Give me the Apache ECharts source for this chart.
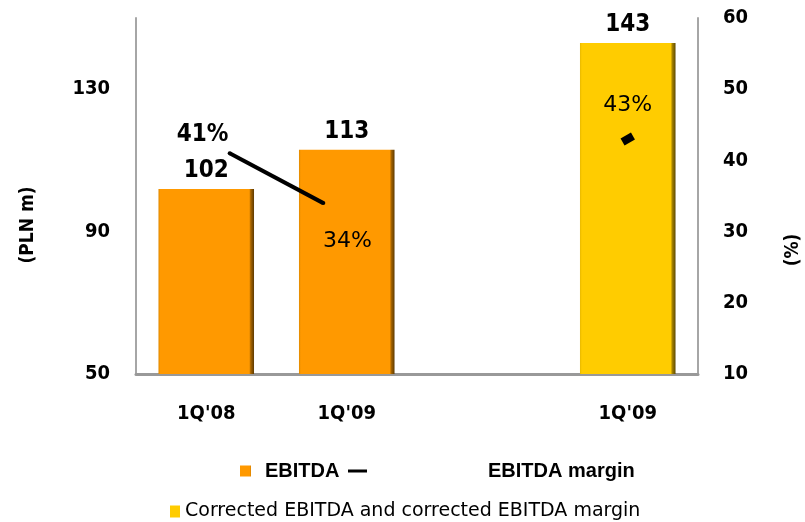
<!DOCTYPE html>
<html>
<head>
<meta charset="utf-8">
<script src="https://cdn.jsdelivr.net/npm/echarts@6/dist/echarts.min.js"></script>
<style>
  html, body { margin: 0; padding: 0; background: #ffffff; overflow: hidden; }
  #chart { width: 805px; height: 522px; }
</style>
</head>
<body>
<div id="chart"></div>
<script>
// Quarterly EBITDA (PLN m) and EBITDA margin (%)
const quarters = ["1Q'08", "1Q'09", "", "1Q'09"];
const ebitda = [102, 113, '-', '-'];
const correctedEbitda = ['-', '-', '-', 143];
const correctedMargin = ['-', '-', '-', 43];

// the margin line runs on its own finer category grid
const marginSlots = ['', "1Q'08", "1Q'09", '', '', '', ''];
const ebitdaMargin = ['-', 41, 34, '-', '-', '-', '-'];

const plnTicks = [50, 90, 130];
const pctTicks = [10, 20, 30, 40, 50, 60];

const BOLD = '"DejaVu Sans Condensed", "DejaVu Sans", sans-serif';
const PLAIN = '"DejaVu Sans", sans-serif';
const LEGEND_BOLD = '"Liberation Sans", Arial, sans-serif';

function bevel(edge, base, shade, deep) {
  return new echarts.graphic.LinearGradient(0, 0, 1, 0, [
    { offset: 0, color: edge },
    { offset: 0.02, color: base },
    { offset: 0.95, color: base },
    { offset: 0.965, color: shade },
    { offset: 1, color: deep }
  ]);
}
const orangeFill = bevel('#E08A00', '#FF9900', '#A86500', '#5E3A00');
const yellowFill = bevel('#E8B800', '#FFCC00', '#A88400', '#5E4A00');

const chart = echarts.init(document.getElementById('chart'), null, { renderer: 'canvas', width: 805, height: 522 });

const marginLabels = ebitdaMargin.map((v, i) => {
  if (v === '-') return v;
  return {
    value: v,
    label: i === 1
      ? { position: 'top', offset: [-27, 0], distance: 5, formatter: '{c}%',
          fontFamily: BOLD, fontWeight: 'bold', fontSize: 24, color: '#000' }
      : { position: 'bottom', offset: [24, 20], distance: 5, formatter: '{c}%',
          fontFamily: PLAIN, fontSize: 22, color: '#000' }
  };
});

chart.setOption({
  backgroundColor: '#ffffff',
  animation: false,
  grid: { left: 136, right: 107, top: 18, bottom: 148, containLabel: false, outerBoundsMode: 'none' },
  legend: [
    {
      data: [{ name: 'EBITDA', icon: 'rect' }],
      left: 240, top: 461, padding: 0,
      itemWidth: 11, itemHeight: 11,
      formatter: name => '{g|}' + name,
      textStyle: {
        fontFamily: LEGEND_BOLD, fontWeight: 'bold', fontSize: 20, color: '#000',
        rich: { g: { width: 9 } }
      }
    },
    {
      data: [{ name: 'EBITDA margin', icon: 'rect' }],
      left: 348, top: 461, padding: 0,
      itemWidth: 19, itemHeight: 3,
      formatter: name => '{g|}' + name,
      textStyle: {
        fontFamily: LEGEND_BOLD, fontWeight: 'bold', fontSize: 20, color: '#000',
        rich: { g: { width: 116 } }
      }
    },
    {
      data: [{ name: 'Corrected EBITDA and corrected EBITDA margin', icon: 'rect' }],
      left: 170, top: 502, padding: 0,
      itemWidth: 10, itemHeight: 12,
      textStyle: { fontFamily: PLAIN, fontSize: 19, color: '#000' }
    }
  ],
  xAxis: [
    {
      type: 'category',
      data: quarters,
      axisLine: { show: true, lineStyle: { color: '#999999', width: 3 } },
      axisTick: { show: false },
      axisLabel: { margin: 30, fontFamily: BOLD, fontWeight: 'bold', fontSize: 20, color: '#000' },
      splitLine: { show: false }
    },
    {
      type: 'category',
      data: marginSlots,
      boundaryGap: false,
      show: false
    }
  ],
  yAxis: [
    {
      type: 'value',
      min: 50, max: 150,
      name: '(PLN m)',
      nameLocation: 'middle',
      nameGap: 98,
      nameRotate: 90,
      nameTextStyle: {
        fontFamily: BOLD, fontWeight: 'bold', fontSize: 19, color: '#000',
        padding: [0, 58, 0, 0]
      },
      axisLine: { show: true, lineStyle: { color: '#A6A6A6', width: 2 } },
      axisTick: { show: false },
      splitLine: { show: false },
      axisLabel: {
        customValues: plnTicks,
        margin: 26,
        fontFamily: BOLD, fontWeight: 'bold', fontSize: 20, color: '#000'
      }
    },
    {
      type: 'value',
      min: 10, max: 60, interval: 10,
      name: '(%)',
      nameLocation: 'middle',
      nameGap: 86,
      nameRotate: 90,
      nameTextStyle: {
        fontFamily: BOLD, fontWeight: 'bold', fontSize: 19, color: '#000',
        padding: [0, 108, 0, 0]
      },
      position: 'right',
      axisLine: { show: true, lineStyle: { color: '#A6A6A6', width: 2 } },
      axisTick: { show: false },
      splitLine: { show: false },
      axisLabel: {
        margin: 25,
        fontFamily: BOLD, fontWeight: 'bold', fontSize: 20, color: '#000',
        formatter: v => (pctTicks.includes(v) ? String(v) : '')
      }
    }
  ],
  series: [
    {
      name: 'EBITDA',
      type: 'bar',
      data: ebitda,
      barCategoryGap: '32%',
      barGap: '-100%',
      itemStyle: { color: orangeFill },
      label: {
        show: true, position: 'top', distance: 6,
        fontFamily: BOLD, fontWeight: 'bold', fontSize: 24, color: '#000'
      }
    },
    {
      name: 'Corrected EBITDA and corrected EBITDA margin',
      type: 'bar',
      data: correctedEbitda,
      barCategoryGap: '32%',
      barGap: '-100%',
      itemStyle: { color: yellowFill },
      label: {
        show: true, position: 'top', distance: 6,
        fontFamily: BOLD, fontWeight: 'bold', fontSize: 24, color: '#000'
      }
    },
    {
      name: 'EBITDA margin',
      type: 'line',
      xAxisIndex: 1,
      yAxisIndex: 1,
      data: marginLabels,
      symbol: 'circle',
      symbolSize: 4,
      itemStyle: { color: '#000' },
      lineStyle: { color: '#000', width: 4 },
      label: { show: true, color: '#000' },
      z: 5
    },
    {
      name: 'Corrected EBITDA and corrected EBITDA margin',
      type: 'scatter',
      yAxisIndex: 1,
      data: correctedMargin,
      symbol: 'rect',
      symbolSize: [12, 8],
      symbolRotate: 30,
      itemStyle: { color: '#000', opacity: 1 },
      label: {
        show: true, position: 'top', distance: 16,
        formatter: p => p.value + '%',
        fontFamily: PLAIN, fontSize: 22, color: '#000', opacity: 1
      },
      z: 5
    }
  ]
});
</script>
</body>
</html>
